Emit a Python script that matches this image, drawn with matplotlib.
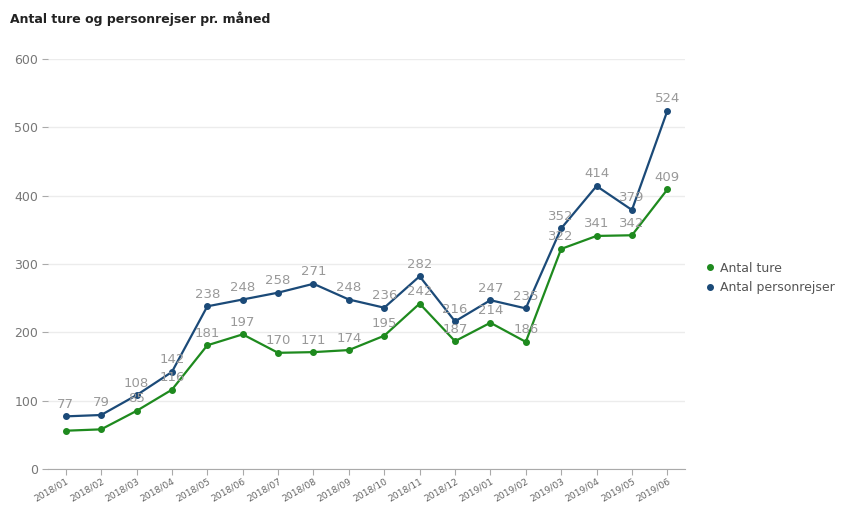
import matplotlib.pyplot as plt
import numpy as np

# data
maaneder = ["2018/01", "2018/02", "2018/03", "2018/04", "2018/05", "2018/06",
            "2018/07", "2018/08", "2018/09", "2018/10", "2018/11", "2018/12",
            "2019/01", "2019/02", "2019/03", "2019/04", "2019/05", "2019/06"]
ture = [56, 58, 85, 116, 181, 197, 170, 171, 174, 195, 242, 187, 214, 186, 322, 341, 342, 409]
personrejser = [77, 79, 108, 142, 238, 248, 258, 271, 248, 236, 282, 216, 247, 235, 352, 414, 379, 524]
# labels that the chart hides (overlap)
skjul_ture = [0, 1]

groen = "#1e8a1e"
blaa = "#1b4a78"
graa = "#999999"

fig = plt.figure(figsize=(8.43, 5.05), dpi=100)
ax = fig.add_axes([0.057, 0.0713, 0.7556, 0.812])

x = np.arange(len(maaneder))
ax.plot(x, personrejser, color=blaa, lw=1.6, marker="o", ms=4, label="Antal personrejser", zorder=3)
ax.plot(x, ture, color=groen, lw=1.6, marker="o", ms=4, label="Antal ture", zorder=3)

for i, v in enumerate(personrejser):
    ax.annotate(str(v), (i, v), xytext=(0, 4), textcoords="offset points",
                ha="center", va="bottom", color=graa, fontsize=9.5)
for i, v in enumerate(ture):
    if i in skjul_ture:
        continue
    ax.annotate(str(v), (i, v), xytext=(0, 4), textcoords="offset points",
                ha="center", va="bottom", color=graa, fontsize=9.5)

ax.set_xlim(-0.5, 17.5)
ax.set_ylim(0, 600)
ax.set_yticks([0, 100, 200, 300, 400, 500, 600])
ax.grid(axis="y", color="#ececec", lw=1)
ax.set_axisbelow(True)
for s in ["top", "right", "left"]:
    ax.spines[s].set_visible(False)
ax.spines["bottom"].set_color("#aaaaaa")
ax.tick_params(axis="y", colors="#777777", labelsize=9, length=4, color="#aaaaaa", pad=3)
ax.tick_params(axis="x", colors="#aaaaaa", length=4, pad=1.5)
ax.set_xticks(x)
ax.set_xticklabels(maaneder, rotation=30, ha="right", rotation_mode="anchor",
                   fontsize=6.6, color="#666666")

h, l = ax.get_legend_handles_labels()
leg = fig.legend(h[::-1], l[::-1], loc="center left", bbox_to_anchor=(0.825, 0.45),
                 frameon=False, fontsize=9, handlelength=0.6, handletextpad=0.5,
                 labelspacing=0.5, labelcolor="#555555")
for ln in leg.get_lines():
    ln.set_linestyle("")

fig.text(0.012, 0.962, "Antal ture og personrejser pr. måned", fontsize=9,
         fontweight="bold", color="#222222", va="center")

fig.savefig("out.png", dpi=100)
